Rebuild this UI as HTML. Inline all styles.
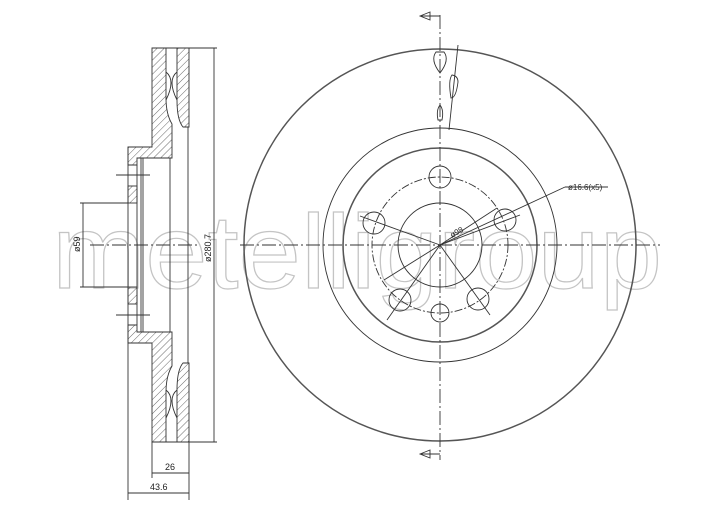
<!DOCTYPE html>
<html><head><style>body{margin:0;background:#fff}svg{display:block}</style></head><body>
<svg width="720" height="509" viewBox="0 0 720 509" xmlns="http://www.w3.org/2000/svg">
<defs>
<pattern id="h" width="5" height="5" patternUnits="userSpaceOnUse" patternTransform="rotate(45)">
<line x1="0" y1="0" x2="0" y2="5" stroke="#444" stroke-width="0.8"/></pattern>
</defs>
<!-- watermark -->
<text x="52" y="288" textLength="610" lengthAdjust="spacingAndGlyphs" font-family="Liberation Sans, sans-serif" font-size="105" fill="none" stroke="#c4c4c4" stroke-width="1.2">metelligroup</text>

<g stroke="#333" fill="none" stroke-width="0.9">
<!-- section -->
<path d="M152,48 H166 V98 Q166,114 172,124 V158 H137 V165 H128 V147 H152 Z" fill="url(#h)"/>
<path d="M152,442 H166 V392 Q166,376 172,366 V332 H137 V325 H128 V343 H152 Z" fill="url(#h)"/>
<rect x="128" y="186" width="9" height="17" fill="url(#h)"/>
<rect x="128" y="287" width="9" height="17" fill="url(#h)"/>
<path d="M177,48 H189 V127 H183 Q177,120 177,100 Z" fill="url(#h)"/>
<path d="M177,442 H189 V363 H183 Q177,370 177,390 Z" fill="url(#h)"/>
<path d="M166,48 H177 M166,442 H177"/>
<path d="M166,72 Q176,80 166,100 M177,72 Q167,80 177,100"/>
<path d="M166,390 Q176,398 166,418 M177,390 Q167,398 177,418"/>
<line x1="128" y1="147" x2="128" y2="343"/>
<line x1="137" y1="165" x2="137" y2="325"/>
<line x1="141" y1="158" x2="141" y2="332"/>
<line x1="143" y1="158" x2="143" y2="332"/>
<line x1="170" y1="158" x2="170" y2="332"/>
<line x1="188" y1="127" x2="188" y2="363"/>
<line x1="90" y1="245" x2="200" y2="245" stroke-dasharray="14,3,2,3"/>
<line x1="116" y1="175" x2="150" y2="175"/><line x1="116" y1="315" x2="150" y2="315"/>
<!-- dims -->
<line x1="214" y1="48" x2="214" y2="442"/>
<line x1="189" y1="48" x2="217" y2="48"/><line x1="189" y1="442" x2="217" y2="442"/>
<line x1="83" y1="203" x2="83" y2="287"/>
<line x1="80" y1="203" x2="128" y2="203"/><line x1="80" y1="287" x2="128" y2="287"/>
<line x1="152" y1="442" x2="152" y2="478"/><line x1="189" y1="442" x2="189" y2="500"/>
<line x1="128" y1="343" x2="128" y2="500"/>
<line x1="152" y1="473" x2="189" y2="473"/><line x1="128" y1="493" x2="189" y2="493"/>
</g>
<g font-family="Liberation Sans, sans-serif" font-size="9" fill="#222">
<text x="165" y="470">26</text><text x="150" y="490">43.6</text>
<text transform="translate(80,252) rotate(-90)">ø59</text>
<text transform="translate(211,262) rotate(-90)">ø280.7</text>
<text x="568" y="190" font-size="8">ø16.6(x5)</text>
<text transform="translate(452,238) rotate(-30)" font-size="8">ø98</text>
</g>

<!-- front view -->
<g stroke="#333" fill="none" stroke-width="0.9">
<circle cx="440" cy="245" r="196" stroke="#555" stroke-width="1.5"/>
<circle cx="440" cy="245" r="117"/>
<circle cx="440" cy="245" r="97" stroke="#555" stroke-width="1.5"/>
<circle cx="440" cy="245" r="68" stroke-dasharray="8,2,2,2"/>
<circle cx="440" cy="245" r="42"/>
<circle cx="440" cy="177" r="11"/>
<circle cx="505" cy="220" r="11"/>
<circle cx="478" cy="299" r="11"/>
<circle cx="440" cy="313" r="9"/>
<circle cx="400" cy="300" r="11"/>
<circle cx="374" cy="223" r="11"/>
<line x1="240" y1="245" x2="660" y2="245" stroke-dasharray="14,3,2,3"/>
<line x1="440" y1="15" x2="440" y2="460" stroke-dasharray="14,3,2,3"/>
<line x1="440" y1="245" x2="360" y2="216"/>
<line x1="440" y1="245" x2="387" y2="320"/>
<line x1="440" y1="245" x2="490" y2="315"/>
<line x1="440" y1="245" x2="497" y2="208"/>
<line x1="384" y1="280" x2="440" y2="245"/>
<line x1="440" y1="245" x2="520" y2="215"/>
<line x1="440" y1="245" x2="565" y2="187"/>
<line x1="565" y1="187" x2="608" y2="187"/>
<path d="M440,16 H420 M420,16 L430,12 V20 Z"/>
<path d="M440,454 H420 M420,454 L430,450 V458 Z"/>
<path d="M436,52 Q430,60 440,73 Q450,60 444,52 Z"/>
<path d="M452,75 Q448,80 451,98 Q456,98 458,82 Q458,76 452,75 Z"/>
<path d="M440,105 Q436,110 438,120 H442 Q444,110 440,105 Z"/>
<line x1="458" y1="45" x2="449" y2="130"/>
</g>
</svg>
</body></html>
